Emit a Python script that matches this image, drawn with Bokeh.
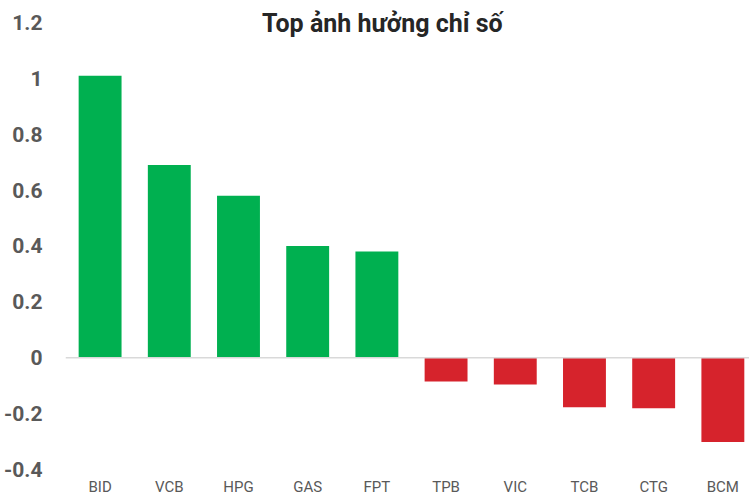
from bokeh.plotting import figure
from bokeh.models import Range1d, FixedTicker, Span, Label, ColumnDataSource
from bokeh.core.properties import value
from bokeh.embed import file_html
from bokeh.resources import INLINE

# ---- data ----
tickers = ["BID", "VCB", "HPG", "GAS", "FPT", "TPB", "VIC", "TCB", "CTG", "BCM"]
impact = [1.01, 0.69, 0.58, 0.40, 0.38, -0.085, -0.096, -0.177, -0.181, -0.302]
y_ticks = [-0.4, -0.2, 0, 0.2, 0.4, 0.6, 0.8, 1.0, 1.2]
y_tick_labels = ["-0.4", "-0.2", "0", "0.2", "0.4", "0.6", "0.8", "1", "1.2"]
title_text = "Top ảnh hưởng chỉ số"

GREEN = "#00b050"
RED = "#d6232c"
colors = [GREEN if v >= 0 else RED for v in impact]
xs = list(range(len(tickers)))
src = ColumnDataSource(dict(x=xs, top=impact, color=colors))
lab_src = ColumnDataSource(dict(x=xs, y=[-0.463] * len(xs), text=tickers))

p = figure(width=749, height=496, output_backend="svg", toolbar_location=None,
           x_range=Range1d(-0.5, 9.385), y_range=Range1d(-0.497, 1.279),
           min_border_left=65, min_border_right=0, min_border_top=0,
           min_border_bottom=0)
p.outline_line_color = None
p.xgrid.visible = False
p.ygrid.visible = False
p.xaxis.visible = False

p.vbar(x="x", top="top", bottom=0, width=0.62, color="color",
       line_color=None, source=src)

p.add_layout(Span(location=0, dimension="width", line_color="#d9d9d9",
                  line_width=1.5))

# y axis
ya = p.yaxis[0]
ya.ticker = FixedTicker(ticks=y_ticks)
ya.major_label_overrides = {v: s for v, s in zip(y_ticks, y_tick_labels)}
ya.axis_line_color = None
ya.major_tick_line_color = None
ya.minor_tick_line_color = None
ya.major_label_standoff = 17
ya.major_label_text_font = "Roboto"
ya.major_label_text_font_style = "bold"
ya.major_label_text_font_size = "21px"
ya.major_label_text_color = "#595959"

# category labels (x axis)
p.text(x="x", y="y", text="text", source=lab_src, text_align="center",
       text_baseline="middle", text_font=value("Roboto"),
       text_font_size="15px", text_color="#595959")

p.add_layout(Label(x=4.08, y=1.198, text=title_text, text_align="center",
                   text_baseline="middle", text_font="Roboto",
                   text_font_style="bold", text_font_size="25px",
                   text_color="#262626"))

open("out.html", "w").write(file_html(p, INLINE))
